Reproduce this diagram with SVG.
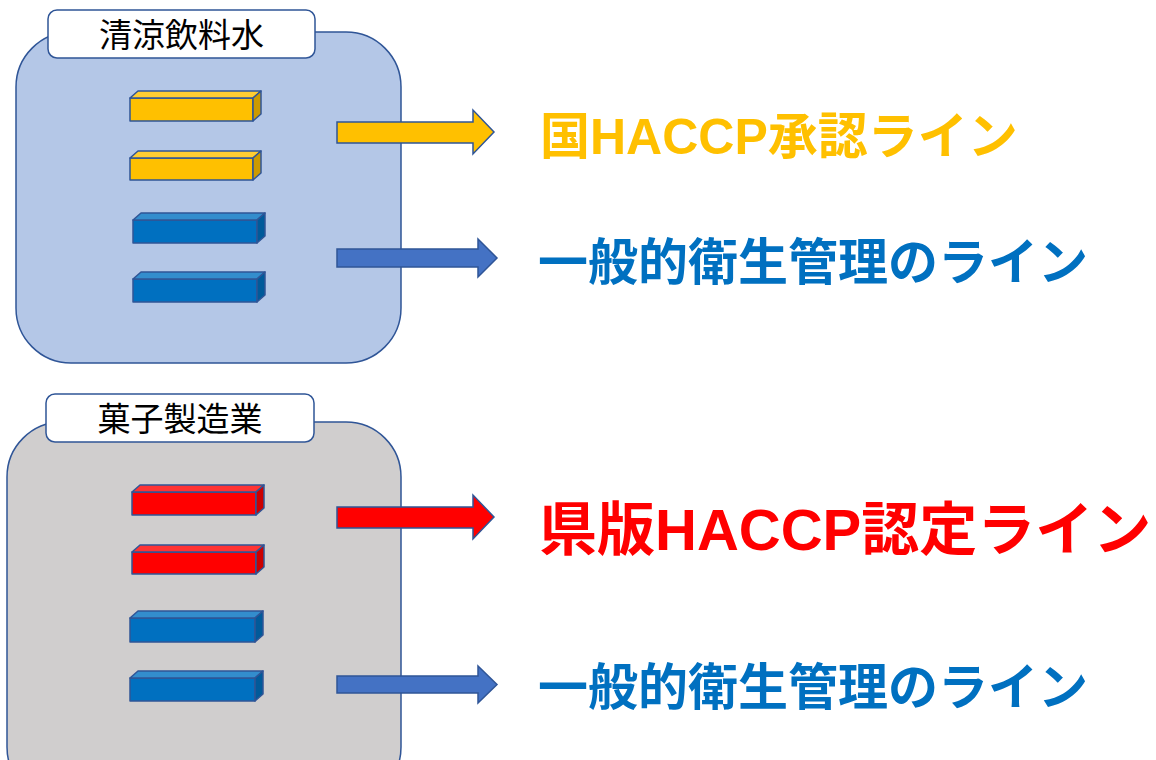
<svg xmlns="http://www.w3.org/2000/svg" width="1156" height="760" viewBox="0 0 1156 760">
<style>
.panel{stroke:#2F5597;stroke-width:1.5}
.label{fill:#FFFFFF;stroke:#2F5597;stroke-width:1.5}
.ltxt{font-family:"Noto Sans CJK JP","Liberation Sans",sans-serif;font-size:33px;fill:#000;text-anchor:middle}
.big{font-family:"Liberation Sans","Noto Sans CJK JP",sans-serif;font-weight:bold}
.bar path{stroke:#2F5597;stroke-width:1.5;stroke-linejoin:round}
.y .f{fill:#FFC000}.y .t{fill:#FFCD33}.y .s{fill:#CC9A00}
.b .f{fill:#0070C0}.b .t{fill:#338DCD}.b .s{fill:#005A9A}
.r .f{fill:#FF0000}.r .t{fill:#FF3333}.r .s{fill:#CC0000}
.arr{stroke:#2F5597;stroke-width:1.5;stroke-linejoin:miter}
</style>
<rect width="1156" height="760" fill="#FFFFFF"/>

<g id="panel-seiryo">
<rect class="panel" x="16" y="32" width="385" height="331" rx="55" ry="55" fill="#B4C7E7"/>
<rect class="label" x="48" y="10" width="267" height="48" rx="9" ry="9"/>
<text class="ltxt" x="181.5" y="47">清涼飲料水</text>
</g>

<g id="bar-s1" class="bar y" transform="translate(130,98)">
<path class="f" d="M0,0H123V23H0Z"/><path class="t" d="M0,0L8,-7H131L123,0Z"/><path class="s" d="M123,0L131,-7V16L123,23Z"/>
</g>
<g id="bar-s2" class="bar y" transform="translate(130,158)">
<path class="f" d="M0,0H123V22H0Z"/><path class="t" d="M0,0L8,-7H131L123,0Z"/><path class="s" d="M123,0L131,-7V15L123,22Z"/>
</g>
<g id="bar-s3" class="bar b" transform="translate(133,220)">
<path class="f" d="M0,0H124V23H0Z"/><path class="t" d="M0,0L8,-7H132L124,0Z"/><path class="s" d="M124,0L132,-7V16L124,23Z"/>
</g>
<g id="bar-s4" class="bar b" transform="translate(133,279)">
<path class="f" d="M0,0H124V23H0Z"/><path class="t" d="M0,0L8,-7H132L124,0Z"/><path class="s" d="M124,0L132,-7V16L124,23Z"/>
</g>

<g id="panel-kashi">
<rect class="panel" x="7" y="422" width="394" height="380" rx="55" ry="55" fill="#D0CECE"/>
<rect class="label" x="46" y="394" width="268" height="48" rx="9" ry="9"/>
<text class="ltxt" x="180" y="431">菓子製造業</text>
</g>

<g id="bar-k1" class="bar r" transform="translate(132,492)">
<path class="f" d="M0,0H124V23H0Z"/><path class="t" d="M0,0L8,-7H132L124,0Z"/><path class="s" d="M124,0L132,-7V16L124,23Z"/>
</g>
<g id="bar-k2" class="bar r" transform="translate(132,552)">
<path class="f" d="M0,0H124V22H0Z"/><path class="t" d="M0,0L8,-7H132L124,0Z"/><path class="s" d="M124,0L132,-7V15L124,22Z"/>
</g>
<g id="bar-k3" class="bar b" transform="translate(130,618)">
<path class="f" d="M0,0H125V24H0Z"/><path class="t" d="M0,0L8,-7H133L125,0Z"/><path class="s" d="M125,0L133,-7V17L125,24Z"/>
</g>
<g id="bar-k4" class="bar b" transform="translate(130,678)">
<path class="f" d="M0,0H125V23H0Z"/><path class="t" d="M0,0L8,-7H133L125,0Z"/><path class="s" d="M125,0L133,-7V16L125,23Z"/>
</g>

<g id="connectors">
<polygon class="arr" fill="#FFC000" points="337,122 473,122 473,110 494,132 473,154 473,143 337,143"/>
<polygon class="arr" fill="#4472C4" points="337,249 478,249 478,239 497,258 478,277 478,267 337,267"/>
<polygon class="arr" fill="#FF0000" points="337,507 473,507 473,495 494,517 473,539 473,528 337,528"/>
<polygon class="arr" fill="#4472C4" points="337,676 478,676 478,666 497,684.5 478,703 478,693 337,693"/>
</g>

<g id="label-kuni">
<text class="big" x="540" y="154" font-size="50" fill="#FFC000">国HACCP承認ライン</text>
</g>
<g id="label-ippan1">
<text class="big" x="538" y="280" font-size="50" fill="#0070C0">一般的衛生管理のライン</text>
</g>
<g id="label-ken">
<text class="big" x="539" y="550" font-size="58" fill="#FF0000">県版HACCP認定ライン</text>
</g>
<g id="label-ippan2">
<text class="big" x="538" y="705" font-size="50" fill="#0070C0">一般的衛生管理のライン</text>
</g>
</svg>
